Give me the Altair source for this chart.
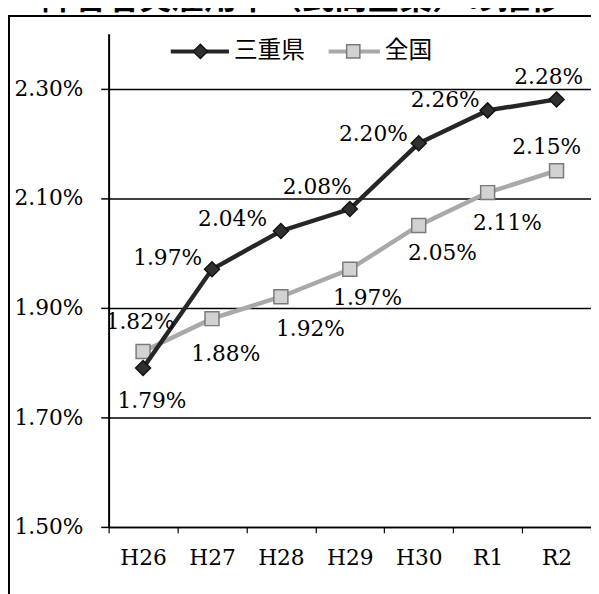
import altair as alt
import pandas as pd

# ---- data ----
years = ["H26", "H27", "H28", "H29", "H30", "R1", "R2"]
mie_values = [1.79, 1.97, 2.04, 2.08, 2.20, 2.26, 2.28]
national_values = [1.82, 1.88, 1.92, 1.97, 2.05, 2.11, 2.15]
series_names = ["三重県", "全国"]
y_tick_values = [1.5, 1.7, 1.9, 2.1, 2.3]
title_text = "障害者実雇用率（民間企業）の推移"

rows = []
for s, vals in zip(series_names, [mie_values, national_values]):
    for yr, v in zip(years, vals):
        rows.append({"series": s, "year": yr, "value": v, "label": f"{v:.2f}%"})
df = pd.DataFrame(rows)

# ---- styling ----
W, H = 489, 500
SERIF = "DejaVu Serif"
CJK = "Noto Sans CJK JP"
line_colors = ["#262626", "#a9a9a9"]
fill_colors = ["#303030", "#d2d2d2"]
stroke_colors = ["#111111", "#7a7a7a"]
shapes = ["diamond", "square"]
marker_sizes = [230, 200]
label_offsets = {
    "三重県": [(9, 34), (-45, -11), (-49, -12), (-33, -22), (-46, -9), (-43, -10), (-8, -23)],
    "全国": [(-3, -30), (14, 36), (30, 33), (18, 29), (24, 28), (20, 31), (-10, -24)],
}
legend_pos = {  # x0, x1, marker x, text x (plot coords), y
    "三重県": (63, 122, 93, 127, 18),
    "全国": (223, 275, 248, 280, 18),
}

x_enc = alt.X(
    "year:N",
    sort=years,
    bandPosition=0.5,
    scale=alt.Scale(type="band", domain=years, paddingInner=0, paddingOuter=0),
    axis=alt.Axis(
        title=None, orient="bottom", labelAngle=0, tickBand="extent",
        domainColor="black", domainWidth=1.5, tickColor="black", tickWidth=1.2,
        tickSize=6, labelFont=SERIF, labelFontSize=22, labelColor="black",
        labelPadding=15, grid=False,
    ),
)
y_enc = alt.Y(
    "value:Q",
    scale=alt.Scale(domain=[1.5, 2.4], nice=False, zero=False),
    axis=alt.Axis(
        title=None, values=y_tick_values,
        labelExpr="format(datum.value, '.2f') + '%'",
        grid=True, gridColor="black", gridWidth=1.5,
        domainColor="black", domainWidth=2, tickColor="black", tickWidth=1.5,
        tickSize=8, labelFont=SERIF, labelFontSize=22, labelColor="black",
        labelPadding=18,
    ),
)

base = alt.Chart(df)

layers = []
for s in reversed(series_names):
    k = series_names.index(s)
    sub = base.transform_filter(alt.datum.series == s)
    layers.append(
        sub.mark_line(strokeWidth=4.5, color=line_colors[k]).encode(x=x_enc, y=y_enc)
    )
    layers.append(
        sub.mark_point(
            shape=shapes[k], size=marker_sizes[k], filled=True,
            fill=fill_colors[k], stroke=stroke_colors[k], strokeWidth=1.5, opacity=1,
        ).encode(x=x_enc, y=y_enc)
    )

for s in series_names:
    for yr, (dx, dy) in zip(years, label_offsets[s]):
        layers.append(
            base.transform_filter((alt.datum.series == s) & (alt.datum.year == yr))
            .mark_text(dx=dx, dy=dy, font=SERIF, fontSize=22, color="black",
                       align="center", baseline="middle")
            .encode(x=x_enc, y=y_enc, text="label:N")
        )

one = alt.Chart(pd.DataFrame({"k": [0]}))

# legend (manual)
for k, s in enumerate(series_names):
    x0, x1, mx, tx, ly = legend_pos[s]
    layers.append(one.mark_rule(color=line_colors[k], strokeWidth=4).encode(
        x=alt.value(x0), x2=alt.value(x1), y=alt.value(ly)))
    layers.append(one.mark_point(
        shape=shapes[k], size=marker_sizes[k] * 0.9, filled=True,
        fill=fill_colors[k], stroke=stroke_colors[k], strokeWidth=1.5, opacity=1,
    ).encode(x=alt.value(mx), y=alt.value(ly)))
    layers.append(one.mark_text(
        text=s, font=CJK, fontSize=24, color="black", align="left", baseline="middle",
    ).encode(x=alt.value(tx), y=alt.value(ly)))

# outer frame and cropped title
layers.append(one.mark_rule(color="black", strokeWidth=2).encode(
    x=alt.value(-102), x2=alt.value(W), y=alt.value(-18)))
layers.append(one.mark_rule(color="black", strokeWidth=2).encode(
    x=alt.value(-101), y=alt.value(-18), y2=alt.value(H + 70)))
layers.append(one.mark_text(
    text=title_text, font=CJK, fontSize=33, fontWeight="bold", color="black",
    align="center", baseline="bottom",
).encode(x=alt.value(196), y=alt.value(-18)))

chart = (
    alt.layer(*layers)
    .properties(
        width=W, height=H,
        autosize=alt.AutoSizeParams(type="none"),
        padding={"left": 102, "top": 22, "right": 0, "bottom": 64},
        background="white",
    )
    .configure_view(stroke=None)
)

chart.save("out.html", embed_options={"renderer": "svg", "actions": False})
